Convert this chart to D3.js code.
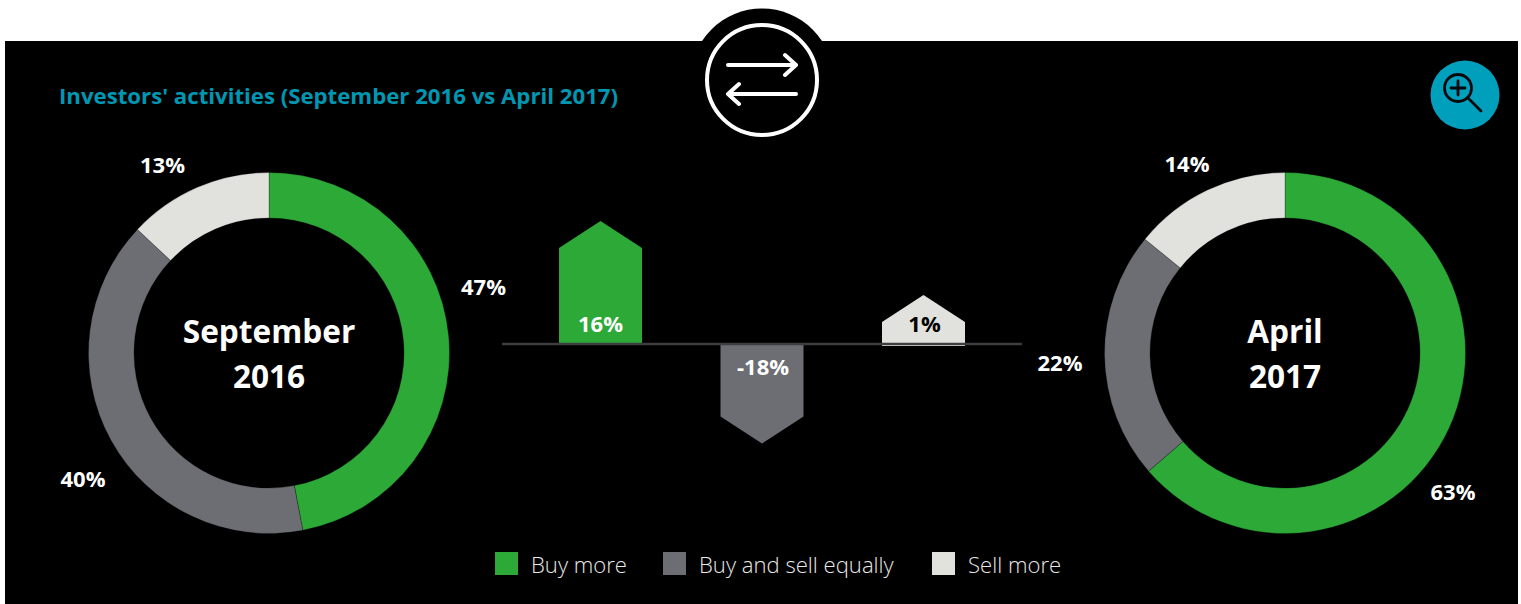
<!DOCTYPE html>
<html>
<head>
<meta charset="utf-8">
<script src="https://cdnjs.cloudflare.com/ajax/libs/d3/7.8.5/d3.min.js"></script>
<style>
  html, body { margin: 0; padding: 0; background: #fff; overflow: hidden; }
  text { font-family: "Open Sans", sans-serif; }
</style>
</head>
<body>
<div id="chart"></div>
<script>
// chart values
var categories = ["Buy more", "Buy and sell equally", "Sell more"];
var sep2016 = [47, 40, 13];
var apr2017 = [63, 22, 14];
var change = [16, -18, 1];

var colors = ["#2ca936", "#6d6e73", "#e1e1de"];
var teal = "#009fbb";

var width = 1521, height = 604;

var svg = d3.select("#chart").append("svg")
    .attr("width", width)
    .attr("height", height)
    .style("display", "block");

// black panel + bump on top for the icon
svg.append("rect").attr("x", 5).attr("y", 41).attr("width", 1513).attr("height", 563).attr("fill", "#000");
svg.append("circle").attr("cx", 762).attr("cy", 80).attr("r", 71.5).attr("fill", "#000");

// exchange icon
var icon = svg.append("g").attr("fill", "none").attr("stroke", "#fff").attr("stroke-linecap", "round").attr("stroke-linejoin", "round");
icon.append("circle").attr("cx", 762).attr("cy", 80).attr("r", 55).attr("stroke-width", 4);
icon.append("path").attr("d", "M728,65H796M785,55L796,65L785,75").attr("stroke-width", 4);
icon.append("path").attr("d", "M796,94H728M739,84L728,94L739,104").attr("stroke-width", 4);

svg.append("text")
    .text("Investors' activities (September 2016 vs April 2017)")
    .attr("x", 59).attr("y", 104)
    .attr("font-size", 22.2).attr("font-weight", 700).attr("fill", "#0097b2");

// zoom button
svg.append("circle").attr("cx", 1465).attr("cy", 95).attr("r", 34.5).attr("fill", teal);
var lens = svg.append("g").attr("fill", "none").attr("stroke", "#06090c").attr("stroke-width", 2.8).attr("stroke-linecap", "round");
lens.append("circle").attr("cx", 1458).attr("cy", 88).attr("r", 13.5);
lens.append("path").attr("d", "M1451,88H1465M1458,81V95");
lens.append("path").attr("d", "M1468,98L1481,111");

// donuts
var pie = d3.pie().sort(null);
var arc = d3.arc().innerRadius(135).outerRadius(180.5);

function donut(values, cx, cy, lines, labelPos) {
    var g = svg.append("g").attr("transform", "translate(" + cx + "," + cy + ")");
    g.selectAll("path").data(pie(values)).enter().append("path")
        .attr("d", arc)
        .attr("fill", function(d, i) { return colors[i]; })
        .attr("stroke", "#000")
        .attr("stroke-width", 0.25);

    g.selectAll("text.center").data(lines).enter().append("text")
        .attr("class", "center")
        .text(function(d) { return d; })
        .attr("y", function(d, i) { return -10 + i * 45; })
        .attr("text-anchor", "middle")
        .attr("font-size", 31.6).attr("font-weight", 700).attr("fill", "#fff");

    svg.selectAll("text.pct" + cx).data(values).enter().append("text")
        .attr("class", "pct" + cx)
        .text(function(d) { return d + "%"; })
        .attr("x", function(d, i) { return labelPos[i][0]; })
        .attr("y", function(d, i) { return labelPos[i][1]; })
        .attr("text-anchor", "middle")
        .attr("font-size", 22).attr("font-weight", 700).attr("fill", "#fff");
}

donut(sep2016, 269, 353, ["September", "2016"], [[483.5, 295], [83, 487], [162.5, 173]]);
donut(apr2017, 1285, 353, ["April", "2017"], [[1453, 500], [1060, 371], [1187, 172]]);

// centre chart: bar heights in the picture are not proportional, so up and down get their own scale
var x = d3.scalePoint().domain(categories).range([600.5, 923.5]);
var yUp = d3.scaleLinear().domain([1, 16]).range([322, 248]);
var yDown = d3.scaleLinear().domain([0, -18]).range([344, 416.5]);
var barW = 83, cap = 27, zero = 343;

function barPath(d, i) {
    var cx = x(categories[i]), l = cx - barW / 2, r = cx + barW / 2;
    if (d >= 0) {
        var t = yUp(d);
        return "M" + l + "," + (zero + (i == 2 ? 3 : 0)) + "V" + t + "L" + cx + "," + (t - cap) + "L" + r + "," + t + "V" + (zero + (i == 2 ? 3 : 0)) + "Z";
    }
    var b = yDown(d);
    return "M" + l + "," + zero + "V" + b + "L" + cx + "," + (b + cap) + "L" + r + "," + b + "V" + zero + "Z";
}

svg.selectAll("path.bar").data(change).enter().append("path")
    .attr("class", "bar")
    .attr("d", barPath)
    .attr("fill", function(d, i) { return colors[i]; });

svg.append("line").attr("x1", 502).attr("x2", 1022).attr("y1", 344).attr("y2", 344)
    .attr("stroke", "#3c3c41").attr("stroke-width", 2.4);

svg.selectAll("text.barlabel").data(change).enter().append("text")
    .attr("class", "barlabel")
    .text(function(d) { return d + "%"; })
    .attr("x", function(d, i) { return x(categories[i]) + (i == 0 ? 0 : 1); })
    .attr("y", function(d) { return d < 0 ? 375 : 332; })
    .attr("text-anchor", "middle")
    .attr("font-size", 22).attr("font-weight", 700)
    .attr("fill", function(d, i) { return i == 2 ? "#000" : "#fff"; });

// legend
var legendX = [495, 663, 932];
var legend = svg.selectAll("g.legend").data(categories).enter().append("g")
    .attr("class", "legend")
    .attr("transform", function(d, i) { return "translate(" + legendX[i] + ",552)"; });
legend.append("rect").attr("width", 23).attr("height", 23)
    .attr("fill", function(d, i) { return colors[i]; });
legend.append("text")
    .text(function(d) { return d; })
    .attr("x", 36).attr("y", 21)
    .attr("font-size", 22.1).attr("font-weight", 300).attr("fill", "#e8e8e8");
</script>
</body>
</html>
